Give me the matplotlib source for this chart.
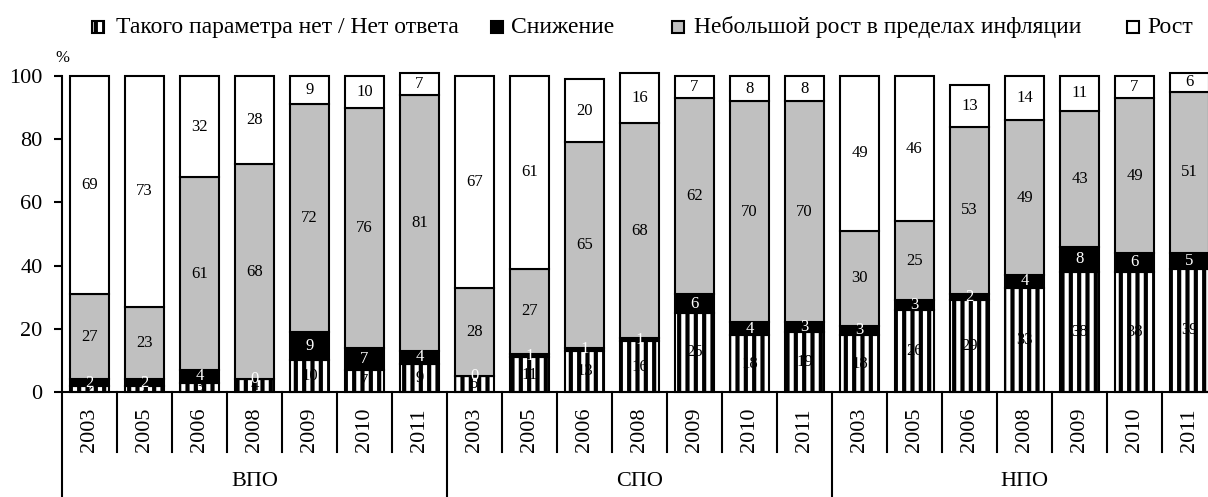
import numpy as np
import matplotlib
matplotlib.use('Agg')
import matplotlib.pyplot as plt
import matplotlib.transforms as mtransforms
from matplotlib.patches import Rectangle

plt.rcParams['font.family'] = ['Liberation Serif', 'DejaVu Serif']
plt.rcParams['hatch.linewidth'] = 3.0

groups = ['ВПО', 'СПО', 'НПО']
years = ['2003', '2005', '2006', '2008', '2009', '2010', '2011']

# values per group, years in order above
no_answer = [2, 2, 3, 4, 10, 7, 9,
             5, 11, 13, 16, 25, 18, 19,
             18, 26, 29, 33, 38, 38, 39]
decline = [2, 2, 4, 0, 9, 7, 4,
           0, 1, 1, 1, 6, 4, 3,
           3, 3, 2, 4, 8, 6, 5]
small_growth = [27, 23, 61, 68, 72, 76, 81,
                28, 27, 65, 68, 62, 70, 70,
                30, 25, 53, 49, 43, 49, 51]
growth = [69, 73, 32, 28, 9, 10, 7,
          67, 61, 20, 16, 7, 8, 8,
          49, 46, 13, 14, 11, 7, 6]

series_names = ['Такого параметра нет / Нет ответа', 'Снижение',
                'Небольшой рост в пределах инфляции', 'Рост']
series = [no_answer, decline, small_growth, growth]
fills = ['white', 'black', '#C0C0C0', 'white']
hatches = ['||', None, None, None]
text_colors = ['black', 'white', 'black', 'black']

W, H = 1208, 497
fig = plt.figure(figsize=(W / 100, H / 100), dpi=100)
ax = fig.add_axes([62 / W, 1 - 392 / H, 1155 / W, 316 / H])

x = np.arange(len(no_answer))
bottom = np.zeros(len(x))
for vals, fc, h, tc in zip(series, fills, hatches, text_colors):
    vals = np.array(vals, dtype=float)
    ax.bar(x, vals, 0.71, bottom=bottom, color=fc, edgecolor='black',
           linewidth=1.5, hatch=h, clip_on=False, zorder=2)
    for xi, b, v in zip(x, bottom, vals):
        ax.text(xi, b + v / 2, f'{int(v)}', ha='center', va='center',
                fontsize=12, color=tc, zorder=3)
    bottom += vals

ax.set_xlim(-0.5, len(x) - 0.5)
ax.set_ylim(0, 100)
ax.set_yticks([0, 20, 40, 60, 80, 100])
ax.tick_params(axis='y', labelsize=16, length=6, width=1.5, pad=8)
ax.set_xticks([])
for s in ['top', 'right']:
    ax.spines[s].set_visible(False)
ax.spines['left'].set_linewidth(1.5)
ax.spines['bottom'].set_linewidth(1.5)

# category axis: year separators, group separators and labels
trans = mtransforms.blended_transform_factory(ax.transData, ax.transAxes)
bottom_edge = -105 / 316
for k in range(len(x) - 1):
    sep = k + 0.5
    if (k + 1) % len(years) == 0:
        y_end = bottom_edge
    else:
        y_end = -60 / 316
    ax.plot([sep, sep], [0, y_end], color='black', lw=1.5,
            transform=trans, clip_on=False)
ax.plot([-0.5, -0.5], [0, bottom_edge], color='black', lw=1.5,
        transform=trans, clip_on=False)

for k in range(len(x)):
    ax.text(k, -38 / 316, years[k % len(years)], rotation=90, ha='center',
            va='center', fontsize=16, transform=trans)
for g, name in enumerate(groups):
    center = g * len(years) + (len(years) - 1) / 2
    ax.text(center, -89 / 316, name, ha='center', va='center',
            fontsize=16, transform=trans)

fig.text(62 / W, 1 - 58 / H, '%', ha='center', va='center', fontsize=12)

# legend drawn by hand to match the spacing of the original
legend_box_x = [92, 491, 672, 1127]
legend_text_x = [116, 511, 694, 1147]
box = 12
for name, fc, h, bx, tx in zip(series_names, fills, hatches,
                               legend_box_x, legend_text_x):
    fig.patches.append(Rectangle((bx / W, 1 - (27 + box / 2) / H), box / W,
                                 box / H, facecolor=fc, edgecolor='black',
                                 hatch=h, linewidth=1.5,
                                 transform=fig.transFigure, figure=fig))
    fig.text(tx / W, 1 - 33 / H, name, ha='left', va='baseline', fontsize=17)

fig.savefig('out.png', dpi=100)
